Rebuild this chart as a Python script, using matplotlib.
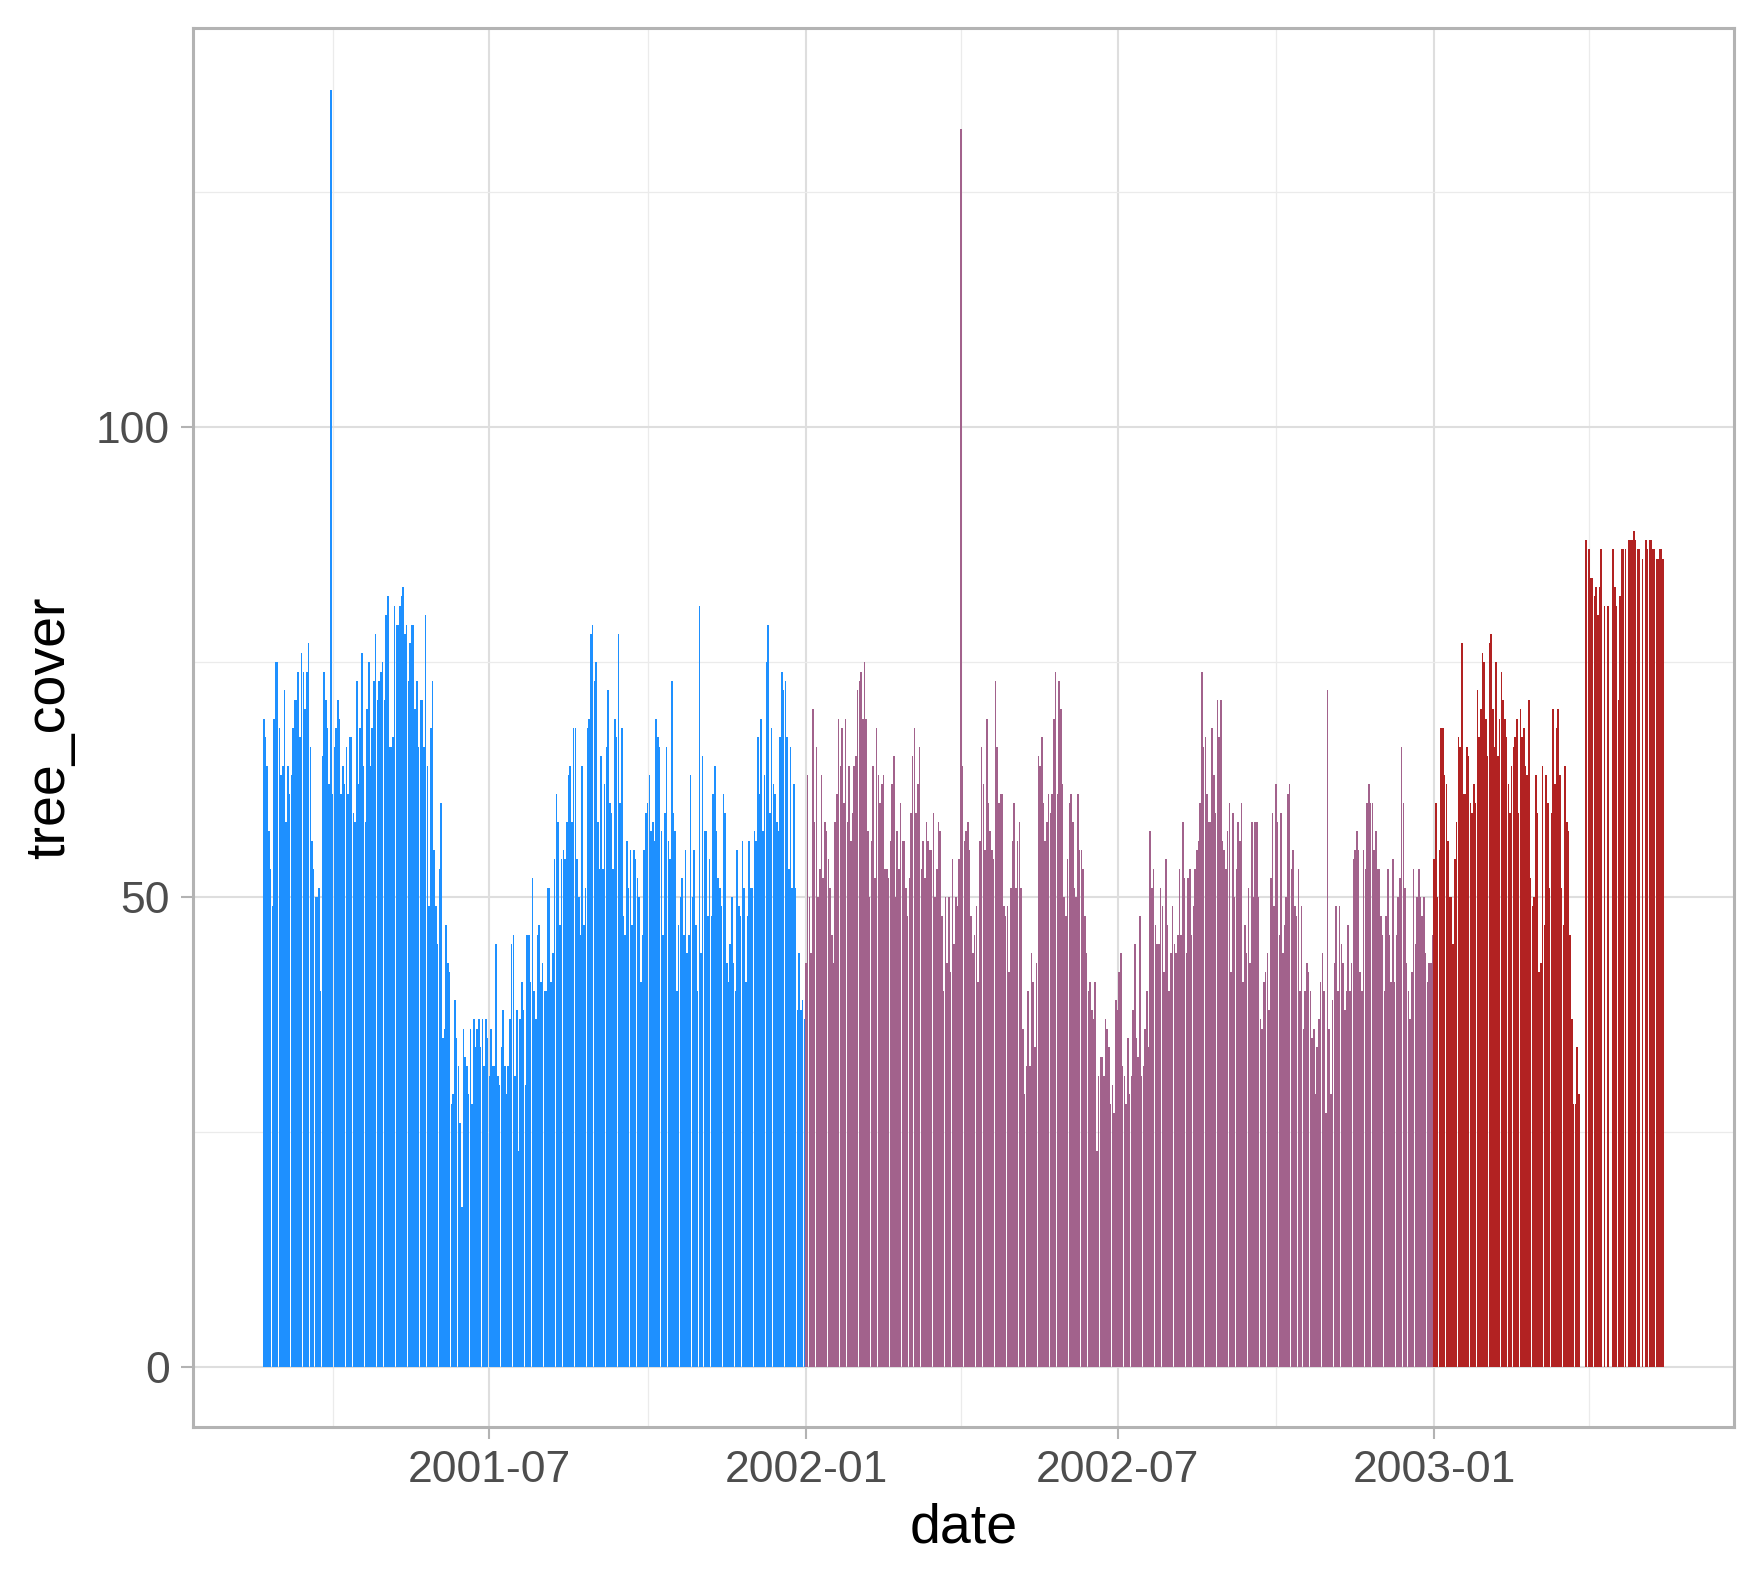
import numpy as np
import matplotlib
matplotlib.use("Agg")
from matplotlib import pyplot as plt
import matplotlib.dates as mdates

# daily tree_cover values, one list per year (nan = day without a bar)
start_2001 = "2001-02-20"
tree_2001 = [
    69, 67, 64, 57, 53, 49, 69, 75, 75, 68, 63, 64, 72, 58, 64, 61, 63, 68, 71, 71,
    74, 67, 76, 74, 70, 74, 77, 66, 56, 53, 50, 50, 51, 40, 65, 74, 71, 68, 62, 135.9,
    61, 66, 68, 71, 69, 61, 64, 62, 66, 61, 67, 67, 59, 58, 73, 62, 68, 76, 64, 58,
    70, 75, 64, 68, 73, 78, 71, 73, 74, 75, 71, 80, 82, 66, 66, 67, 81, 79, 79, 81,
    82, 83, 78, 79, 73, 77, 79, 79, 70, 73, 66, 71, 71, 66, 80, 64, 49, 68, 73, 55,
    49, 45, 53, 60, 35, 36, 47, 43, 42, 28, 29, 39, 35, 32, 26, 17, 36, 33, 32, 29,
    36, 28, 37, 34, 36, 37, 34, 37, 32, 37, 35, 31, 36, 32, 32, 45, 31, 30, 34, 38,
    32, 29, 32, 37, 45, 46, 31, 38, 23, 37, 41, 38, 30, 46, 46, 41, 52, 40, 37, 46,
    47, 41, 43,
    40, 40, 51, 51, 41, 44, 54, 61, 58, 47, 54, 55, 54, 58, 63, 64, 58, 68, 68, 54,
    50, 46, 64, 47, 51, 68, 69, 78, 79, 73, 75, 58, 53, 65, 53, 62, 66, 72, 60, 59,
    53, 69, 67, 78, 60, 68, 48, 46, 56, 51, 55, 47, 55, 54, 52, 50, 41, 46, 55, 59,
    60, 63, 57, 58, 56, 69, 67, 66, 57, 46, 59, 66, 56, 54, 73, 59, 57, 40, 47, 50,
    52, 46,
    55, 44, 46, 63, 50, 55, 47, 40, 81, 44, 65, 57, 57, 48, 54, 48, 61, 64, 57, 52,
    51, 49, 61, 59, 43, 41, 45, 50, 43, 40, 55, 49, 48, 56, 51, 41, 48, 56, 51, 51,
    57, 56, 67, 61, 69, 57, 63, 75, 79, 59, 68, 62, 61, 58, 57, 67, 74, 72, 73, 67,
    53, 66, 51, 62, 51, 38, 44, 38, 39, 37,
]
tree_2002 = [
    43, 63, 50, 44, 70, 58, 66, 50, 53, 63, 52, 58, 57,
    54, 51, 46, 43, 58, 61, 69, 64, 68, 60, 69, 58, 64, 56, 59, 64, 65, 72, 73, 74,
    69, 75, 69, 57, 50, 56, 64, 52, 68, 63, 60, 62, 63, 53, 53, 52, 56, 62, 65, 50,
    57, 53, 60, 56, 56, 51, 48, 52, 59, 65, 68, 59, 62, 66, 53, 56, 52, 58, 56, 55,
    55, 59, 50, 53, 58, 57, 48, 40, 50, 43, 50, 42, 54, 45, 50, 49, 54, 131.7, 64, 56,
    57, 58,
    55, 48, 44, 46, 49, 41, 56, 66, 62, 55, 69, 60, 57, 55, 54, 73, 66, 60, 61, 61,
    49, 48, 49, 42, 51, 56, 60, 51, 56, 58, 51, 36, 29, 32, 40, 32, 44, 41, 34, 43,
    65, 64, 67, 60, 56, 58, 61, 59, 61, 69, 74, 61, 73, 70, 62, 50, 48, 54, 60, 61,
    58, 51, 50, 61, 55, 55, 53, 48, 44, 40, 41, 38, 37, 41, 23, 31, 33, 33, 31, 37,
    36, 34,
    28, 30, 27, 39, 38, 42, 44, 32, 31, 28, 35, 29, 31, 38, 45, 35, 33, 48, 31, 32,
    36, 40, 34, 57, 51, 53, 47, 45, 45, 51, 49, 42, 54, 47, 40, 44, 49, 45, 44, 46,
    53, 46, 58, 52, 44, 52, 53, 46, 49, 53, 55, 56, 60, 74, 66, 67, 61, 58, 58, 68,
    63, 59, 71, 67, 71, 56, 55, 53, 57, 60, 42, 59, 50, 53, 58, 56, 60, 41, 47, 44,
    51, 43,
    58, 50, 58, 58, 50, 37, 36, 41, 42, 44, 38, 52, 59, 49, 62, 58, 46, 59, 44, 47,
    50, 61, 62, 53, 55, 49, 48, 53, 40, 49, 36, 40, 43, 42, 40, 35, 36, 29, 34, 37,
    41, 44, 40, 27, 72, 36, 29, 39, 43, 49, 40, 49, 45, 43, 38, 40, 47, 40, 43, 54,
    55, 57, 55, 42, 40, 55, 53, 60, 62, 60, 60, 55, 57, 53, 53, 48, 46, 40, 48, 53,
    46, 41,
    54, 41, 46, 50, 52, 66, 60, 51, 43, 40, 37, 42, 53, 45, 50, 53, 50, 48, 50, 44,
    41, 43, 43, 46,
]
nan = float("nan")
tree_2003 = [
    54, 60, 50, 55, 68, 68, 63, 62, 56, 50, 50, 45, 54, 58, 67, 66, 77, 61, 61, 66,
    65, 60, 59, 62, 60, 72, 67, 70, 76, 75, 69, 65, 77, 78, 70, 66, 75, 65, 69, 74,
    71, 69, 67, 62, 59, 64, 66, 67, 69, 59, 70, 67, 68, 64, 63, 71, 52, 49, 50,
    63, 59, 42, 43, 64, 47, 63, 60, 51, 59, 70, 62, 68, 70, 63, 51, 47, 64, 58, 57,
    46, 37, 28, 28, 34, 29, nan, nan, nan, 88, nan, 87, 84, 84, 82, 83, 80, 83, 87, nan,
    81, nan, 81, nan, nan, 87, 83, 81, 71, 82, 87, 87, 87, nan, 88, 88, 88, 89, 88, 87,
    87, nan, 86, nan, 88, 87, 88, 88, 87, 87, 86, 86, 87, 87, 86,
]

years = [("2001", start_2001, tree_2001, "#1E90FF"),
         ("2002", "2002-01-01", tree_2002, "#A2628C"),
         ("2003", "2003-01-01", tree_2003, "#B22222")]

x_major = ["2001-07-01", "2002-01-01", "2002-07-01", "2003-01-01"]
x_minor = ["2001-04-01", "2001-10-01", "2002-04-01", "2002-10-01", "2003-04-01"]
y_major = [0, 50, 100]
y_minor = [25, 75, 125]

plt.rcParams["font.family"] = ["Liberation Sans", "DejaVu Sans"]

fig = plt.figure(figsize=(8.82, 7.935), dpi=200)
ax = fig.add_axes([0.1094, 0.1008, 0.8736, 0.8816])

all_x = []
for name, start, vals, col in years:
    days = np.datetime64(start) + np.arange(len(vals))
    x = mdates.date2num(days.astype("datetime64[D]").astype(object))
    y = np.array(vals, dtype=float)
    ok = ~np.isnan(y)
    ax.bar(x[ok], y[ok], width=0.9, color=col, linewidth=0, zorder=2)
    all_x.extend(x[ok])

x_lo, x_hi = min(all_x) - 0.45, max(all_x) + 0.45
pad = 0.05 * (x_hi - x_lo)
ax.set_xlim(x_lo - pad, x_hi + pad)
ax.set_ylim(-6.4, 142.5)

to_num = lambda ds: [mdates.date2num(np.datetime64(d).astype(object)) for d in ds]
ax.set_xticks(to_num(x_major))
ax.set_xticklabels([d[:7] for d in x_major])
ax.set_xticks(to_num(x_minor), minor=True)
ax.set_yticks(y_major)
ax.set_yticks(y_minor, minor=True)

ax.grid(which="major", color="#DEDEDE", linewidth=0.75, zorder=0)
ax.grid(which="minor", color="#EBEBEB", linewidth=0.45, zorder=0)
ax.set_axisbelow(True)

for s in ax.spines.values():
    s.set_color("#B3B3B3")
    s.set_linewidth(1.1)

ax.tick_params(which="major", length=4.4, width=0.75, color="#B3B3B3",
               labelsize=16, labelcolor="#4D4D4D", pad=4)
ax.tick_params(which="minor", length=0)

ax.set_xlabel("date", fontsize=20, labelpad=4)
ax.set_ylabel("tree_cover", fontsize=20, labelpad=7)

fig.savefig("out.png", dpi=200, facecolor="white")
